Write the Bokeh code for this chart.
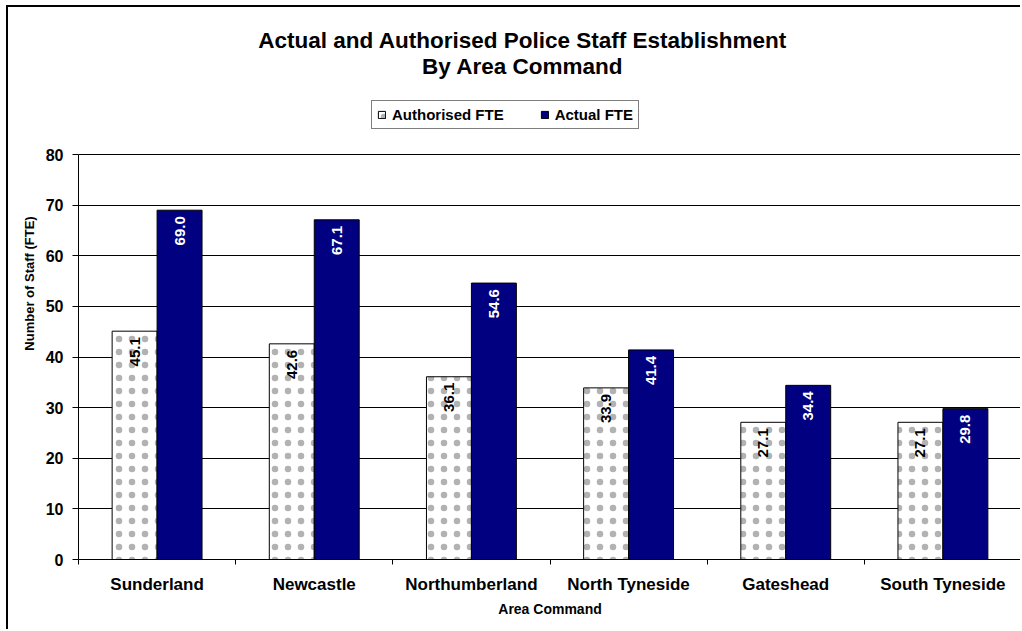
import numpy as np
from bokeh.plotting import figure
from bokeh.models import (ColumnDataSource, FixedTicker, Legend, LegendItem, Label)
from bokeh.transform import dodge
from bokeh.core.properties import value
from bokeh.embed import file_html
from bokeh.resources import INLINE

categories = ["Sunderland", "Newcastle", "Northumberland", "North Tyneside", "Gateshead", "South Tyneside"]
authorised = [45.1, 42.6, 36.1, 33.9, 27.1, 27.1]
actual = [69.0, 67.1, 54.6, 41.4, 34.4, 29.8]
y_ticks = [0, 10, 20, 30, 40, 50, 60, 70, 80]

FONT = "Liberation Sans"
NAVY = "#000080"

xc = [i + 0.5 for i in range(len(categories))]
src = ColumnDataSource(dict(
    x=xc,
    auth=authorised,
    act=actual,
    auth_lbl=[f"{v:.1f}" for v in authorised],
    act_lbl=[f"{v:.1f}" for v in actual],
))

# frame extends to the top of the chart so that title and legend can sit inside it
Y_TOP = 552 * 80 / 405
p = figure(width=1014, height=624, output_backend="svg", toolbar_location=None,
           x_range=(0, len(categories)), y_range=(0, Y_TOP),
           min_border_left=70, min_border_right=1, min_border_top=0, min_border_bottom=72)
p.styles = {"border-left": "2px solid #000000", "border-top": "2px solid #000000",
            "margin-left": "6px", "margin-top": "5px"}
p.outline_line_color = None
p.background_fill_color = "white"
p.border_fill_color = "white"

bw = 0.286
r_auth = p.vbar(x=dodge("x", -bw / 2), top="auth", width=bw, source=src,
                fill_color="white", line_color="black", line_width=1,
                hatch_pattern="dot", hatch_color="black", hatch_alpha=0.3,
                hatch_scale=13, hatch_weight=0.15)
r_act = p.vbar(x=dodge("x", bw / 2), top="act", width=bw, source=src,
               fill_color=NAVY, line_color="black", line_width=1)

p.text(x=dodge("x", -bw / 2), y="auth", text="auth_lbl", source=src, angle=np.pi / 2,
       text_align="right", text_baseline="middle", y_offset=6,
       text_font=value(FONT), text_font_style="bold", text_font_size="15px", text_color="black")
p.text(x=dodge("x", bw / 2), y="act", text="act_lbl", source=src, angle=np.pi / 2,
       text_align="right", text_baseline="middle", y_offset=6,
       text_font=value(FONT), text_font_style="bold", text_font_size="15px", text_color="white")

# x axis
xa = p.xaxis[0]
xa.ticker = FixedTicker(ticks=xc, minor_ticks=list(range(len(categories) + 1)))
xa.major_label_overrides = {x: c for x, c in zip(xc, categories)}
xa.major_tick_out = 0
xa.major_tick_in = 0
xa.minor_tick_out = 5
xa.minor_tick_in = 0
xa.minor_tick_line_color = "black"
xa.axis_line_color = "black"
xa.major_label_text_font = FONT
xa.major_label_text_font_style = "bold"
xa.major_label_text_font_size = "17px"
xa.major_label_text_color = "black"
xa.major_label_standoff = 10
xa.axis_label = "Area Command"
xa.axis_label_text_font = FONT
xa.axis_label_text_font_style = "bold"
xa.axis_label_text_font_size = "14px"
xa.axis_label_text_color = "black"
xa.axis_label_standoff = 4

ya = p.yaxis[0]
ya.ticker = FixedTicker(ticks=y_ticks)
ya.bounds = (0, 80)
ya.major_tick_out = 6
ya.major_tick_in = 0
ya.minor_tick_out = 0
ya.minor_tick_in = 0
ya.axis_line_color = "black"
ya.major_tick_line_color = "black"
ya.major_label_text_font = FONT
ya.major_label_text_font_style = "bold"
ya.major_label_text_font_size = "16px"
ya.major_label_text_color = "black"
ya.major_label_standoff = 9
ya.axis_label = "Number of Staff (FTE)"
ya.axis_label_text_font = FONT
ya.axis_label_text_font_style = "bold"
ya.axis_label_text_font_size = "13px"
ya.axis_label_text_color = "black"
ya.axis_label_standoff = 6

p.xgrid.grid_line_color = None
p.ygrid.ticker = FixedTicker(ticks=y_ticks)
p.ygrid.grid_line_color = "black"
p.ygrid.grid_line_width = 1

# Title
for txt, yy in [("Actual and Authorised Police Staff Establishment", 102.5),
                ("By Area Command", 97.4)]:
    p.add_layout(Label(x=2.826, y=yy, text=txt, text_align="center", text_baseline="middle",
                       text_font=FONT, text_font_style="bold", text_font_size="22.5px",
                       text_color="black"))

legend = Legend(items=[LegendItem(label="Authorised FTE", renderers=[r_auth]),
                       LegendItem(label="Actual FTE", renderers=[r_act])],
                location=(293, 430), orientation="horizontal",
                border_line_color="black", border_line_width=1,
                background_fill_color="white", background_fill_alpha=1,
                label_text_font=FONT, label_text_font_style="bold", label_text_font_size="15px",
                label_text_color="black",
                glyph_width=9, glyph_height=9, label_standoff=6, spacing=36, padding=5,
                label_height=15, margin=0)
p.add_layout(legend, "center")

open("out.html", "w").write(file_html(p, INLINE))
